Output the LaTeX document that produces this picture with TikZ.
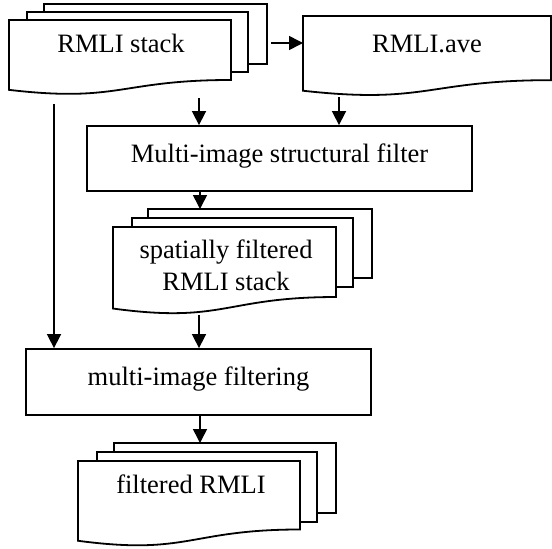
\documentclass[tikz,border=0pt]{standalone}
\usepackage{fontspec}
\setmainfont{Liberation Serif}
\usetikzlibrary{arrows.meta}

% Front sheet of a "document" flowchart symbol: x0, x1, top, height, name
\newcommand{\docsheet}[5]{%
  \filldraw[sheet] (#1,#3) -- (#2,#3) -- (#2,{#3+0.802*#4})
    .. controls ({(#1+#2)/2},{#3+0.802*#4}) and ({(#1+#2)/2},{#3+1.107*#4})
    .. (#1,{#3+0.934*#4}) -- cycle;
  \path (#1,#3) coordinate (#5-nw) (#2,{#3+0.802*#4}) coordinate (#5-se);
  \node[inner sep=0pt] (#5) at ({(#1+#2)/2},{#3+0.5*#4}) {};}

\begin{document}
\begin{tikzpicture}[x=1pt, y=-1pt,
  sheet/.style={draw=black, fill=white, line width=1.8pt, line join=miter},
  procbox/.style={draw=black, fill=white, line width=1.8pt},
  flow/.style={-{Triangle[length=14pt, width=14pt]}, line width=1.6pt},
  lbl/.style={font=\fontsize{26.5}{32}\selectfont, inner sep=0pt, anchor=base, align=center}]

\useasboundingbox (0,0) rectangle (552,549);

% RMLI stack (multi-document)
\filldraw[sheet] (44,4) rectangle (267,64);
\filldraw[sheet] (27,12) rectangle (248,72);
\docsheet{9}{231}{20}{74.8}{stack}
\node[lbl] (stacktxt) at (121,52) {RMLI stack};

% RMLI.ave (single document)
\docsheet{303}{551}{16}{80}{ave}
\node[lbl] (avetxt) at (427,52) {RMLI.ave};

% Multi-image structural filter
\node[procbox, minimum width=385pt, minimum height=65pt, inner sep=0pt]
  (sfilter) at (279.5,158.5) {};
\node[lbl] (sfiltertxt) at (279.5,162) {Multi-image structural filter};

% spatially filtered RMLI stack
\filldraw[sheet] (148,209) rectangle (372,278);
\filldraw[sheet] (132,218) rectangle (353,287);
\docsheet{113}{336}{227}{87.3}{spat}
\node[lbl] (spattxt) at (226,290) {spatially filtered\\RMLI stack};

% multi-image filtering
\node[procbox, minimum width=345pt, minimum height=66pt, inner sep=0pt]
  (mfilter) at (198.5,382) {};
\node[lbl] (mfiltertxt) at (198.5,385) {multi-image filtering};

% filtered RMLI stack
\coordinate (fbacktop) at (200,443);
\filldraw[sheet] (114,443) rectangle (336,513);
\filldraw[sheet] (97,452) rectangle (317,522);
\docsheet{78}{300}{461}{85.4}{filt}
\node[lbl] (filttxt) at (191,493) {filtered RMLI};

% connector start points
\coordinate (s1) at (271,43);
\coordinate (s2) at (199,98);
\coordinate (s3) at (339,97);
\coordinate (s4) at (54,104);
\coordinate (s5) at (200,191);
\coordinate (s6) at (199,315);
\coordinate (s7) at (200,415);
\coordinate (spattop) at (200,209);

% connectors
\draw[flow] (s1) -- (s1 -| ave-nw);
\draw[flow] (s2) -- (s2 |- sfilter.north);
\draw[flow] (s3) -- (s3 |- sfilter.north);
\draw[flow] (s4) -- (s4 |- mfilter.north);
\draw[flow] (s5) -- (spattop);
\draw[flow] (s6) -- (s6 |- mfilter.north);
\draw[flow] (s7) -- (fbacktop);
\end{tikzpicture}
\end{document}
